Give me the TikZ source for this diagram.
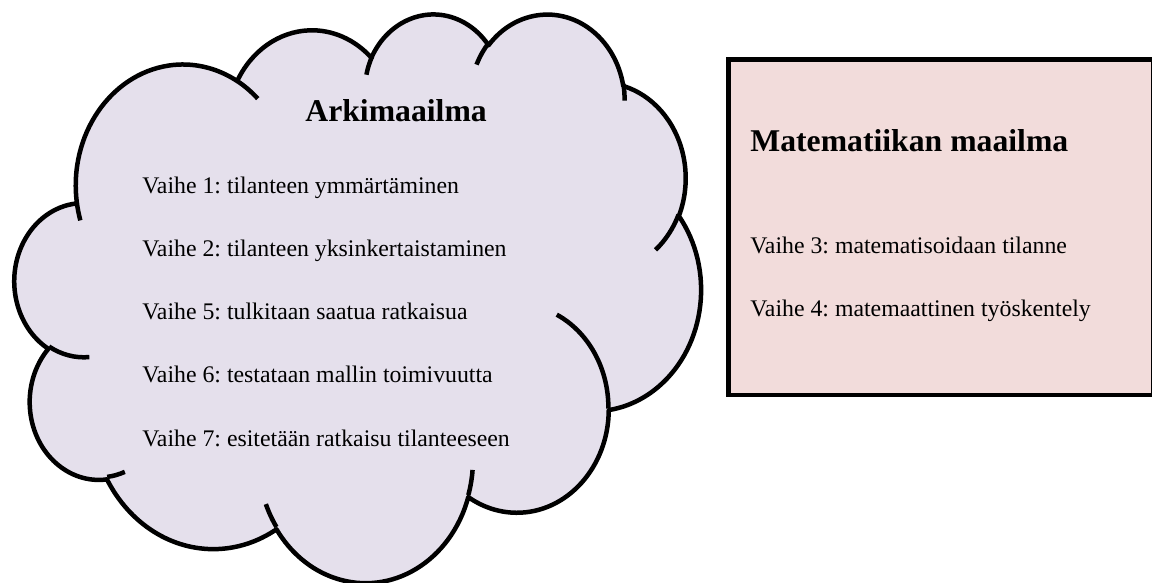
\documentclass[tikz,border=0pt]{standalone}
\usepackage{fontspec}
\setmainfont{Liberation Serif}
\usetikzlibrary{positioning}

\definecolor{cloudfill}{HTML}{E5E0EC}
\definecolor{boxfill}{HTML}{F2DCDB}

% cloud arcs: name, w radius, h radius, start angle, sweep (shape units, y down)
\newcommand\cloudsx{7.94}
\newcommand\cloudsy{6.58}
\newcommand\cloudarc[5]{%
  \pgfmathsetmacro\cta{atan2(#2*sin(#4),#3*cos(#4))}%
  \pgfmathsetmacro\ctb{atan2(#2*sin(#4+#5),#3*cos(#4+#5))}%
  \pgfmathsetmacro\ctb{\ctb+360*(\ctb<\cta)}%
  \pgfmathsetmacro\cts{-\cta}%
  \pgfmathsetmacro\cte{-\ctb}%
  \pgfmathsetmacro\ctx{#2*\cloudsx}%
  \pgfmathsetmacro\cty{#3*\cloudsy}%
  \edef\next{\noexpand\tikzset{#1/.style={start angle=\cts, end angle=\cte,
    x radius=\ctx pt, y radius=\cty pt}}}%
  \next}

% outline
\cloudarc{carcA}{6.753}{9.190}{-190.4875}{123.7805}
\cloudarc{carcB}{5.333}{7.267}{-144.1024}{89.9452}
\cloudarc{carcC}{4.365}{5.945}{-145.8079}{99.7230}
\cloudarc{carcD}{4.857}{6.595}{-130.9861}{117.2417}
\cloudarc{carcE}{5.333}{7.273}{-78.7089}{109.0269}
\cloudarc{carcF}{6.775}{9.220}{-46.2673}{130.2690}
\cloudarc{carcG}{5.785}{7.867}{0.6250}{114.0333}
\cloudarc{carcH}{6.752}{9.215}{22.4516}{115.1726}
\cloudarc{carcI}{7.720}{10.543}{66.2426}{75.7110}
\cloudarc{carcJ}{4.360}{5.918}{-274.9421}{146.7356}
\cloudarc{carcK}{4.345}{5.945}{-246.8285}{152.5189}
% inner hooks
\cloudarc{hookA}{4.345}{5.945}{86.7420}{26.4295}
\cloudarc{hookB}{4.360}{5.918}{73.6105}{11.4475}
\cloudarc{hookC}{6.752}{9.215}{137.6242}{14.0811}
\cloudarc{hookD}{6.752}{9.215}{6.4533}{15.9984}
\cloudarc{hookE}{5.785}{7.867}{-70.2924}{70.9174}
\cloudarc{hookF}{5.333}{7.273}{30.3180}{27.7515}
\cloudarc{hookG}{4.857}{6.595}{-13.7443}{14.8589}
\cloudarc{hookH}{4.857}{6.595}{-149.1815}{18.1954}
\cloudarc{hookI}{4.365}{5.945}{-163.4943}{17.6864}
\cloudarc{hookJ}{6.753}{9.190}{-66.7070}{12.3194}
\cloudarc{hookK}{6.753}{9.190}{157.6544}{11.8582}

\begin{document}
\frenchspacing
\begin{tikzpicture}[
  x=0.5pt, y=-0.5pt,
  cloudline/.style={line width=2.25pt, line join=round},
  stage/.style={inner sep=0pt, anchor=base west, font=\fontsize{11.9}{14}\selectfont},
  worldtitle/.style={inner sep=0pt, anchor=base west, font=\fontsize{15.85}{19}\selectfont\bfseries}
]
\useasboundingbox (0,0) rectangle (1152,583);

% arkimaailma cloud
\begin{scope}[shift={(14.8,12.6)}, x=7.94pt, y=-6.58pt]
  \draw[cloudline, fill=cloudfill] (3.900,14.370) arc[carcA] arc[carcB] arc[carcC]
    arc[carcD] arc[carcE] arc[carcF] arc[carcG] arc[carcH] arc[carcI]
    arc[carcJ] arc[carcK] -- cycle;
  \draw[cloudline] (4.693,26.177) arc[hookA] (6.928,34.899) arc[hookB]
    (16.478,39.090) arc[hookC] (28.827,34.751) arc[hookD]
    (34.129,22.954) arc[hookE] (41.798,15.354) arc[hookF]
    (38.324,5.426) arc[hookG] (29.078,3.952) arc[hookH]
    (22.141,4.720) arc[hookI] (14.000,5.192) arc[hookJ]
    (4.127,15.789) arc[hookK];
\end{scope}

\node[worldtitle] (arki) at (305,121.7) {Arkimaailma};
\node[stage] (v1) at (142,193.3) {Vaihe 1: tilanteen ymmärtäminen};
\node[stage, below=31.6pt of v1.base west, anchor=base west] (v2) {Vaihe 2: tilanteen yksinkertaistaminen};
\node[stage, below=31.6pt of v2.base west, anchor=base west] (v5) {Vaihe 5: tulkitaan saatua ratkaisua};
\node[stage, below=31.6pt of v5.base west, anchor=base west] (v6) {Vaihe 6: testataan mallin toimivuutta};
\node[stage, below=31.6pt of v6.base west, anchor=base west] (v7) {Vaihe 7: esitetään ratkaisu tilanteeseen};

% matematiikan maailma box
\coordinate (boxnw) at (728.5,59.5);
\coordinate (boxse) at (1153.5,395);
\draw[line width=2.35pt, fill=boxfill] (boxnw) rectangle (boxse);

\node[worldtitle] (mate) at (750,151.7) {Matematiikan maailma};
\node[stage] (v3) at (750,253.3) {Vaihe 3: matematisoidaan tilanne};
\node[stage, below=31.8pt of v3.base west, anchor=base west] (v4) {Vaihe 4: matemaattinen työskentely};
\end{tikzpicture}
\end{document}
